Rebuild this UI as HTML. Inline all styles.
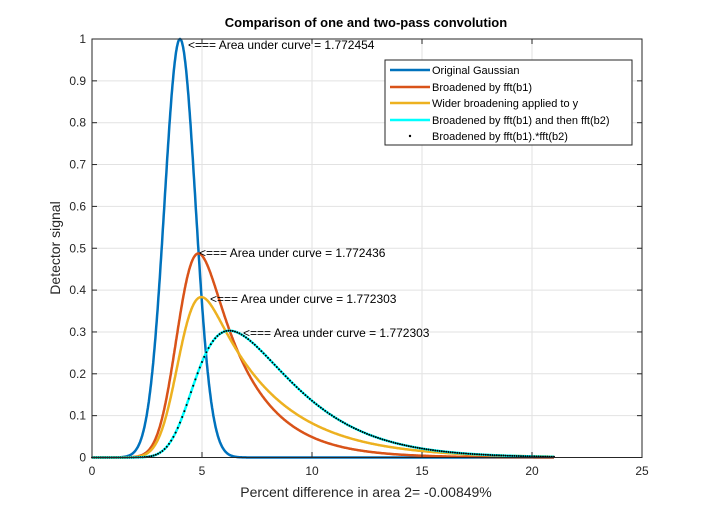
<!DOCTYPE html>
<html><head><meta charset="utf-8"><style>
body{margin:0;background:#fff;width:708px;height:513px;overflow:hidden}
svg{font-family:"Liberation Sans",Arial,sans-serif}
</style></head><body>
<svg id="s" width="708" height="513" xmlns="http://www.w3.org/2000/svg">
<rect width="708" height="513" fill="#fff"/>
<g id="grid" stroke="#e2e2e2" stroke-width="1"></g>
<g id="curves" fill="none" stroke-width="2.5"></g>
<g id="dots" fill="#000"></g>
<rect x="92" y="39" width="550" height="418.5" fill="none" stroke="#262626" stroke-width="1"/>
<g id="ticks" stroke="#262626"></g>
<g id="lbl" font-size="12" fill="#262626"></g>
<text x="366" y="27" font-size="13" font-weight="bold" text-anchor="middle" fill="#000">Comparison of one and two-pass convolution</text>
<text x="366" y="497" font-size="14" text-anchor="middle" fill="#262626">Percent difference in area 2= -0.00849%</text>
<text transform="translate(60,248) rotate(-90)" font-size="14" text-anchor="middle" fill="#262626">Detector signal</text>
<g font-size="12" fill="#000">
<text x="188" y="49">&lt;=== Area under curve = 1.772454</text>
<text x="199" y="257">&lt;=== Area under curve = 1.772436</text>
<text x="210" y="303">&lt;=== Area under curve = 1.772303</text>
<text x="243" y="337">&lt;=== Area under curve = 1.772303</text>
</g>
<rect x="385" y="60" width="247" height="85" fill="#fff" stroke="#262626" stroke-width="1"/>
<g stroke-width="2.5">
<line x1="390" y1="70" x2="430" y2="70" stroke="#0072BD"/>
<line x1="390" y1="87" x2="430" y2="87" stroke="#D95319"/>
<line x1="390" y1="103" x2="430" y2="103" stroke="#EDB120"/>
<line x1="390" y1="120" x2="430" y2="120" stroke="#00FFFF"/>
</g>
<circle cx="410" cy="136" r="1.2" fill="#000"/>
<g font-size="11" fill="#000">
<text x="432" y="74">Original Gaussian</text>
<text x="432" y="91">Broadened by fft(b1)</text>
<text x="432" y="107">Wider broadening applied to y</text>
<text x="432" y="124">Broadened by fft(b1) and then fft(b2)</text>
<text x="432" y="140">Broadened by fft(b1).*fft(b2)</text>
</g>
</svg>
<script>
var NS="http://www.w3.org/2000/svg";
function X(v){return 92+v*22}function Y(v){return 457.5-v*418.5}
function el(p,t,a){var e=document.createElementNS(NS,t);for(var k in a)e.setAttribute(k,a[k]);document.getElementById(p).appendChild(e);return e}
for(var i=1;i<5;i++){el("grid","line",{x1:X(i*5),x2:X(i*5),y1:39,y2:457.5});}
for(var i=1;i<10;i++){el("grid","line",{x1:92,x2:642,y1:Y(i/10),y2:Y(i/10)});}
for(var i=0;i<=5;i++){el("ticks","line",{x1:X(i*5),x2:X(i*5),y1:457.5,y2:452});el("ticks","line",{x1:X(i*5),x2:X(i*5),y1:39,y2:44});
 var t=el("lbl","text",{x:X(i*5),y:475,"text-anchor":"middle"});t.textContent=i*5;}
for(var i=0;i<=10;i++){el("ticks","line",{x1:92,x2:97,y1:Y(i/10),y2:Y(i/10)});el("ticks","line",{x1:642,x2:637,y1:Y(i/10),y2:Y(i/10)});
 var t=el("lbl","text",{x:86,y:Y(i/10)+4,"text-anchor":"end"});t.textContent=(i==0?"0":i==10?"1":(i/10).toString());}
var dx=0.02,N=Math.round(21/dx)+1,g=[];
for(var i=0;i<N;i++){var x=i*dx;g.push(Math.exp(-(x-4)*(x-4)));}
function conv(a,tau){var r=[],s=0,k=Math.exp(-dx/tau);for(var i=0;i<N;i++){s=s*k+a[i]*(1-k);r.push(s);}return r;}
var r=conv(g,2.05),y=conv(g,3.0),c=conv(r,2.0);
function path(a,col){var d="";for(var i=0;i<N;i++)d+=(i?"L":"M")+X(i*dx).toFixed(1)+","+Y(a[i]).toFixed(1);el("curves","path",{d:d,stroke:col});}
path(g,"#0072BD");path(r,"#D95319");path(y,"#EDB120");path(c,"#00FFFF");
for(var i=0;i<N;i+=5)el("dots","circle",{cx:X(i*dx),cy:Y(c[i]),r:1});
</script>
</body></html>
